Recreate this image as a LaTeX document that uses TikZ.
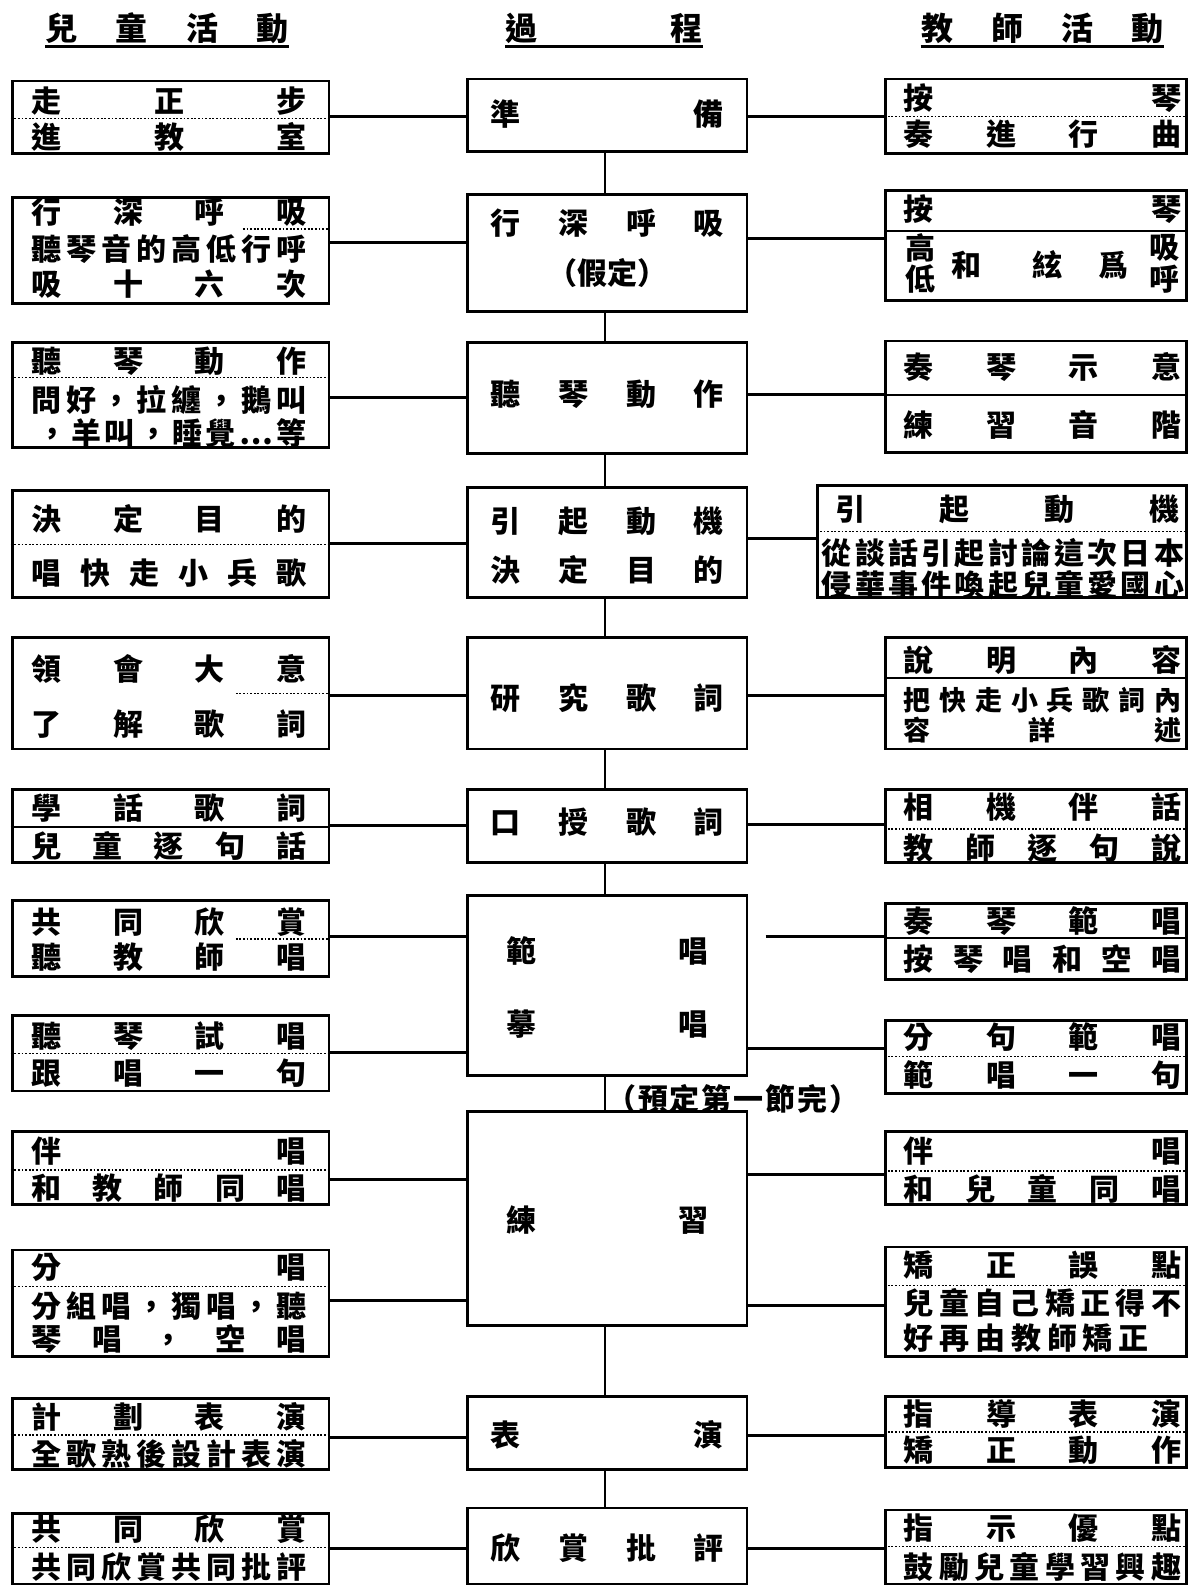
\documentclass[tikz,border=0pt]{standalone}
\usepackage{fontspec}
\newfontfamily\cjk{Noto Sans CJK TC}
\usetikzlibrary{fit}
\newdimen\ul \ul=0.5059pt
\newcounter{tn}
\def\sprd#1{\sprdA#1\relax}
\def\sprdA#1{\ifx\relax#1\else#1\expandafter\sprdB\fi}
\def\sprdB#1{\ifx\relax#1\else\hfill#1\expandafter\sprdB\fi}
\tikzset{
  boxst/.style={draw, line width=1.4pt, inner sep=0pt},
  txt/.style={inner sep=0pt, font=\cjk\bfseries\fontsize{15}{15}\selectfont},
  stxt/.style={inner sep=0pt, font=\cjk\bfseries\fontsize{13.5}{13.5}\selectfont},
  hdr/.style={inner sep=0pt, font=\cjk\bfseries\fontsize{16}{16}\selectfont},
  conn/.style={line width=1.5pt},
  vconn/.style={line width=1.1pt},
  dots/.style={line width=0.8pt, dash pattern=on 0.9pt off 0.9pt},
  thin/.style={line width=0.8pt},
}
\newcommand\tx[4]{\stepcounter{tn}\node[txt] (t\arabic{tn}) at (#1,#2) {\makebox[#3\ul]{\sprd{#4}}};}
\newcommand\txs[4]{\stepcounter{tn}\node[stxt] (t\arabic{tn}) at (#1,#2) {\makebox[#3\ul]{\sprd{#4}}};}
\newcommand\bx[5]{\node[boxst, fit={(#2,#3)(#4,#5)}] (#1) {};}
\newcommand\dd[2]{\draw[dots] (#1.west |- 0,#2) -- (#1.east |- 0,#2);}
\newcommand\ds[2]{\draw[thin] (#1.west |- 0,#2) -- (#1.east |- 0,#2);}
\newcommand\lc[3]{\draw[conn] (#1.east |- 0,#3) -- (#2.west |- 0,#3);}
\begin{document}
\begin{tikzpicture}[x=\ul, y=-\ul]
\fill[white] (0,0) rectangle (1187,1568);
\useasboundingbox (0,0) rectangle (1187,1568);
% headers
\node[hdr] (h1) at (165,28) {\makebox[240\ul]{\sprd{兒童活動}}};
\node[hdr] (h2) at (597,28) {\makebox[195\ul]{\sprd{過程}}};
\node[hdr] (h3) at (1030,28) {\makebox[240\ul]{\sprd{教師活動}}};
\draw[line width=1.5pt] (h1.west |- 0,46) -- (h1.east |- 0,46);
\draw[line width=1.5pt] (h2.west |- 0,46) -- (h2.east |- 0,46);
\draw[line width=1.5pt] (h3.west |- 0,46) -- (h3.east |- 0,46);
\coordinate (cline) at (598,0);
% ---------- left boxes
\bx{L1}{12}{80}{325}{152}
\bx{L2}{12}{195}{325}{300}
\bx{L3}{12}{338}{325}{442}
\bx{L4}{12}{485}{325}{590}
\bx{L5}{12}{630}{325}{740}
\bx{L6}{12}{780}{325}{852}
\bx{L7a}{12}{890}{325}{965}
\bx{L7b}{12}{1003}{325}{1078}
\bx{L8a}{12}{1118}{325}{1190}
\bx{L8b}{12}{1235}{325}{1340}
\bx{L9}{12}{1382}{325}{1452}
\bx{L10}{12}{1495}{325}{1565}
% ---------- center boxes
\bx{C1}{462}{78}{738}{150}
\bx{C2}{462}{192}{738}{308}
\bx{C3}{462}{338}{738}{448}
\bx{C4}{462}{482}{738}{590}
\bx{C5}{462}{630}{738}{740}
\bx{C6}{462}{780}{738}{852}
\bx{C7}{462}{885}{738}{1063}
\bx{C8}{462}{1098}{738}{1310}
\bx{C9}{462}{1380}{738}{1452}
\bx{C10}{462}{1490}{738}{1565}
% ---------- right boxes
\bx{R1}{875}{78}{1172}{152}
\bx{R2}{875}{188}{1172}{297}
\bx{R3}{875}{337}{1172}{447}
\bx{R4}{808}{480}{1172}{590}
\bx{R5}{875}{630}{1172}{740}
\bx{R6}{875}{780}{1172}{852}
\bx{R7a}{875}{893}{1172}{968}
\bx{R7b}{875}{1008}{1172}{1080}
\bx{R8a}{875}{1118}{1172}{1190}
\bx{R8b}{875}{1232}{1172}{1340}
\bx{R9}{875}{1380}{1172}{1450}
\bx{R10}{875}{1492}{1172}{1565}
% ---------- dividers
\dd{L1}{117}
\draw[dots] (240,226) -- (L2.east |- 0,226);
\dd{L3}{373}
\dd{L4}{538}
\draw[dots] (233,685) -- (L5.east |- 0,685);
\ds{L6}{817}
\draw[dots] (233,928) -- (L7a.east |- 0,928);
\dd{L7b}{1041}
\dd{L8a}{1156}
\dd{L8b}{1271}
\dd{L9}{1418}
\dd{L10}{1529}
\dd{R1}{115}
\ds{R2}{228}
\ds{R3}{390}
\dd{R4}{525}
\ds{R5}{670}
\dd{R6}{819}
\ds{R7a}{927}
\dd{R7b}{1044}
\dd{R8a}{1157}
\dd{R8b}{1270}
\dd{R9}{1415}
\dd{R10}{1528}
% ---------- left texts
\tx{167}{100}{272}{走正步}
\tx{167}{135}{272}{進教室}
\tx{167}{210}{272}{行深呼吸}
\tx{167}{246}{272}{聽琴音的高低行呼}
\tx{167}{281}{272}{吸十六次}
\tx{167}{357}{272}{聽琴動作}
\tx{167}{395}{272}{問好，拉纏，鵝叫}
\tx{170}{428}{266}{，羊叫，睡覺…等}
\tx{167}{513}{272}{決定目的}
\tx{167}{566}{272}{唱快走小兵歌}
\tx{167}{661}{272}{領會大意}
\tx{167}{715}{272}{了解歌詞}
\tx{167}{798}{272}{學話歌詞}
\tx{167}{836}{272}{兒童逐句話}
\tx{167}{911}{272}{共同欣賞}
\tx{167}{946}{272}{聽教師唱}
\tx{167}{1024}{272}{聽琴試唱}
\tx{167}{1060}{272}{跟唱一句}
\tx{167}{1137}{272}{伴唱}
\tx{167}{1174}{272}{和教師同唱}
\tx{167}{1252}{272}{分唱}
\tx{167}{1290}{272}{分組唱，獨唱，聽}
\tx{167}{1323}{272}{琴唱，空唱}
\tx{167}{1400}{272}{計劃表演}
\tx{167}{1437}{272}{全歌熟後設計表演}
\tx{167}{1511}{272}{共同欣賞}
\tx{167}{1548}{272}{共同欣賞共同批評}
% ---------- center texts
\tx{600}{113}{230}{準備}
\tx{600}{220}{230}{行深呼吸}
\node[txt] (jd) at (600,270) {（假定）};
\tx{600}{390}{230}{聽琴動作}
\tx{600}{515}{230}{引起動機}
\tx{600}{563}{230}{決定目的}
\tx{600}{690}{230}{研究歌詞}
\tx{600}{812}{230}{口授歌詞}
\tx{600}{940}{200}{範唱}
\tx{600}{1012}{200}{摹唱}
\tx{600}{1205}{200}{練習}
\tx{600}{1418}{230}{表演}
\tx{600}{1530}{230}{欣賞批評}
\node[txt] (yd) at (724,1086) {\makebox[250\ul]{\sprd{（預定第一節完）}}};
% ---------- right texts
\tx{1030}{97}{274}{按琴}
\tx{1030}{133}{274}{奏進行曲}
\tx{1030}{207}{274}{按琴}
\node[txt] (g1) at (909,245) {高};
\node[txt] (g2) at (909,276) {低};
\node[txt] (g3) at (955,262) {和};
\node[txt] (g4) at (1035,262) {絃};
\node[txt] (g5) at (1100,262) {爲};
\node[txt] (g6) at (1151,245) {吸};
\node[txt] (g7) at (1151,276) {呼};
\tx{1030}{363}{274}{奏琴示意}
\tx{1030}{420}{274}{練習音階}
\tx{995}{503}{340}{引起動機}
\tx{991}{546}{358}{從談話引起討論這次日本}
\tx{991}{578}{358}{侵華事件喚起兒童愛國心}
\tx{1030}{652}{274}{說明內容}
\txs{1030}{692}{274}{把快走小兵歌詞內}
\txs{1030}{721}{274}{容詳述}
\tx{1030}{797}{274}{相機伴話}
\tx{1030}{838}{274}{教師逐句說}
\tx{1030}{910}{274}{奏琴範唱}
\tx{1030}{948}{274}{按琴唱和空唱}
\tx{1030}{1025}{274}{分句範唱}
\tx{1030}{1062}{274}{範唱一句}
\tx{1030}{1137}{274}{伴唱}
\tx{1030}{1175}{274}{和兒童同唱}
\tx{1030}{1250}{274}{矯正誤點}
\tx{1030}{1287}{274}{兒童自己矯正得不}
\tx{1014}{1322}{242}{好再由教師矯正}
\tx{1030}{1397}{274}{指導表演}
\tx{1030}{1433}{274}{矯正動作}
\tx{1030}{1510}{274}{指示優點}
\tx{1030}{1548}{274}{鼓勵兒童學習興趣}
% ---------- vertical connectors
\draw[vconn] (C1.south -| cline) -- (C2.north -| cline);
\draw[vconn] (C2.south -| cline) -- (C3.north -| cline);
\draw[vconn] (C3.south -| cline) -- (C4.north -| cline);
\draw[vconn] (C4.south -| cline) -- (C5.north -| cline);
\draw[vconn] (C5.south -| cline) -- (C6.north -| cline);
\draw[vconn] (C6.south -| cline) -- (C7.north -| cline);
\draw[vconn] (C7.south -| cline) -- (C8.north -| cline);
\draw[vconn] (C8.south -| cline) -- (C9.north -| cline);
\draw[vconn] (C9.south -| cline) -- (C10.north -| cline);
% ---------- horizontal connectors
\lc{L1}{C1}{115} \lc{C1}{R1}{115}
\lc{L2}{C2}{240} \lc{C2}{R2}{236}
\lc{L3}{C3}{393} \lc{C3}{R3}{390}
\lc{L4}{C4}{537} \lc{C4}{R4}{532}
\lc{L5}{C5}{687} \lc{C5}{R5}{687}
\lc{L6}{C6}{816} \lc{C6}{R6}{815}
\lc{L7a}{C7}{925}
\draw[conn] ([xshift=17\ul]C7.east |- 0,925) -- (R7a.west |- 0,925);
\lc{L7b}{C7}{1040} \lc{C7}{R7b}{1036}
\lc{L8a}{C8}{1165} \lc{C8}{R8a}{1160}
\lc{L8b}{C8}{1285} \lc{C8}{R8b}{1290}
\lc{L9}{C9}{1420} \lc{C9}{R9}{1418}
\lc{L10}{C10}{1530} \lc{C10}{R10}{1530}
\end{tikzpicture}
\end{document}
